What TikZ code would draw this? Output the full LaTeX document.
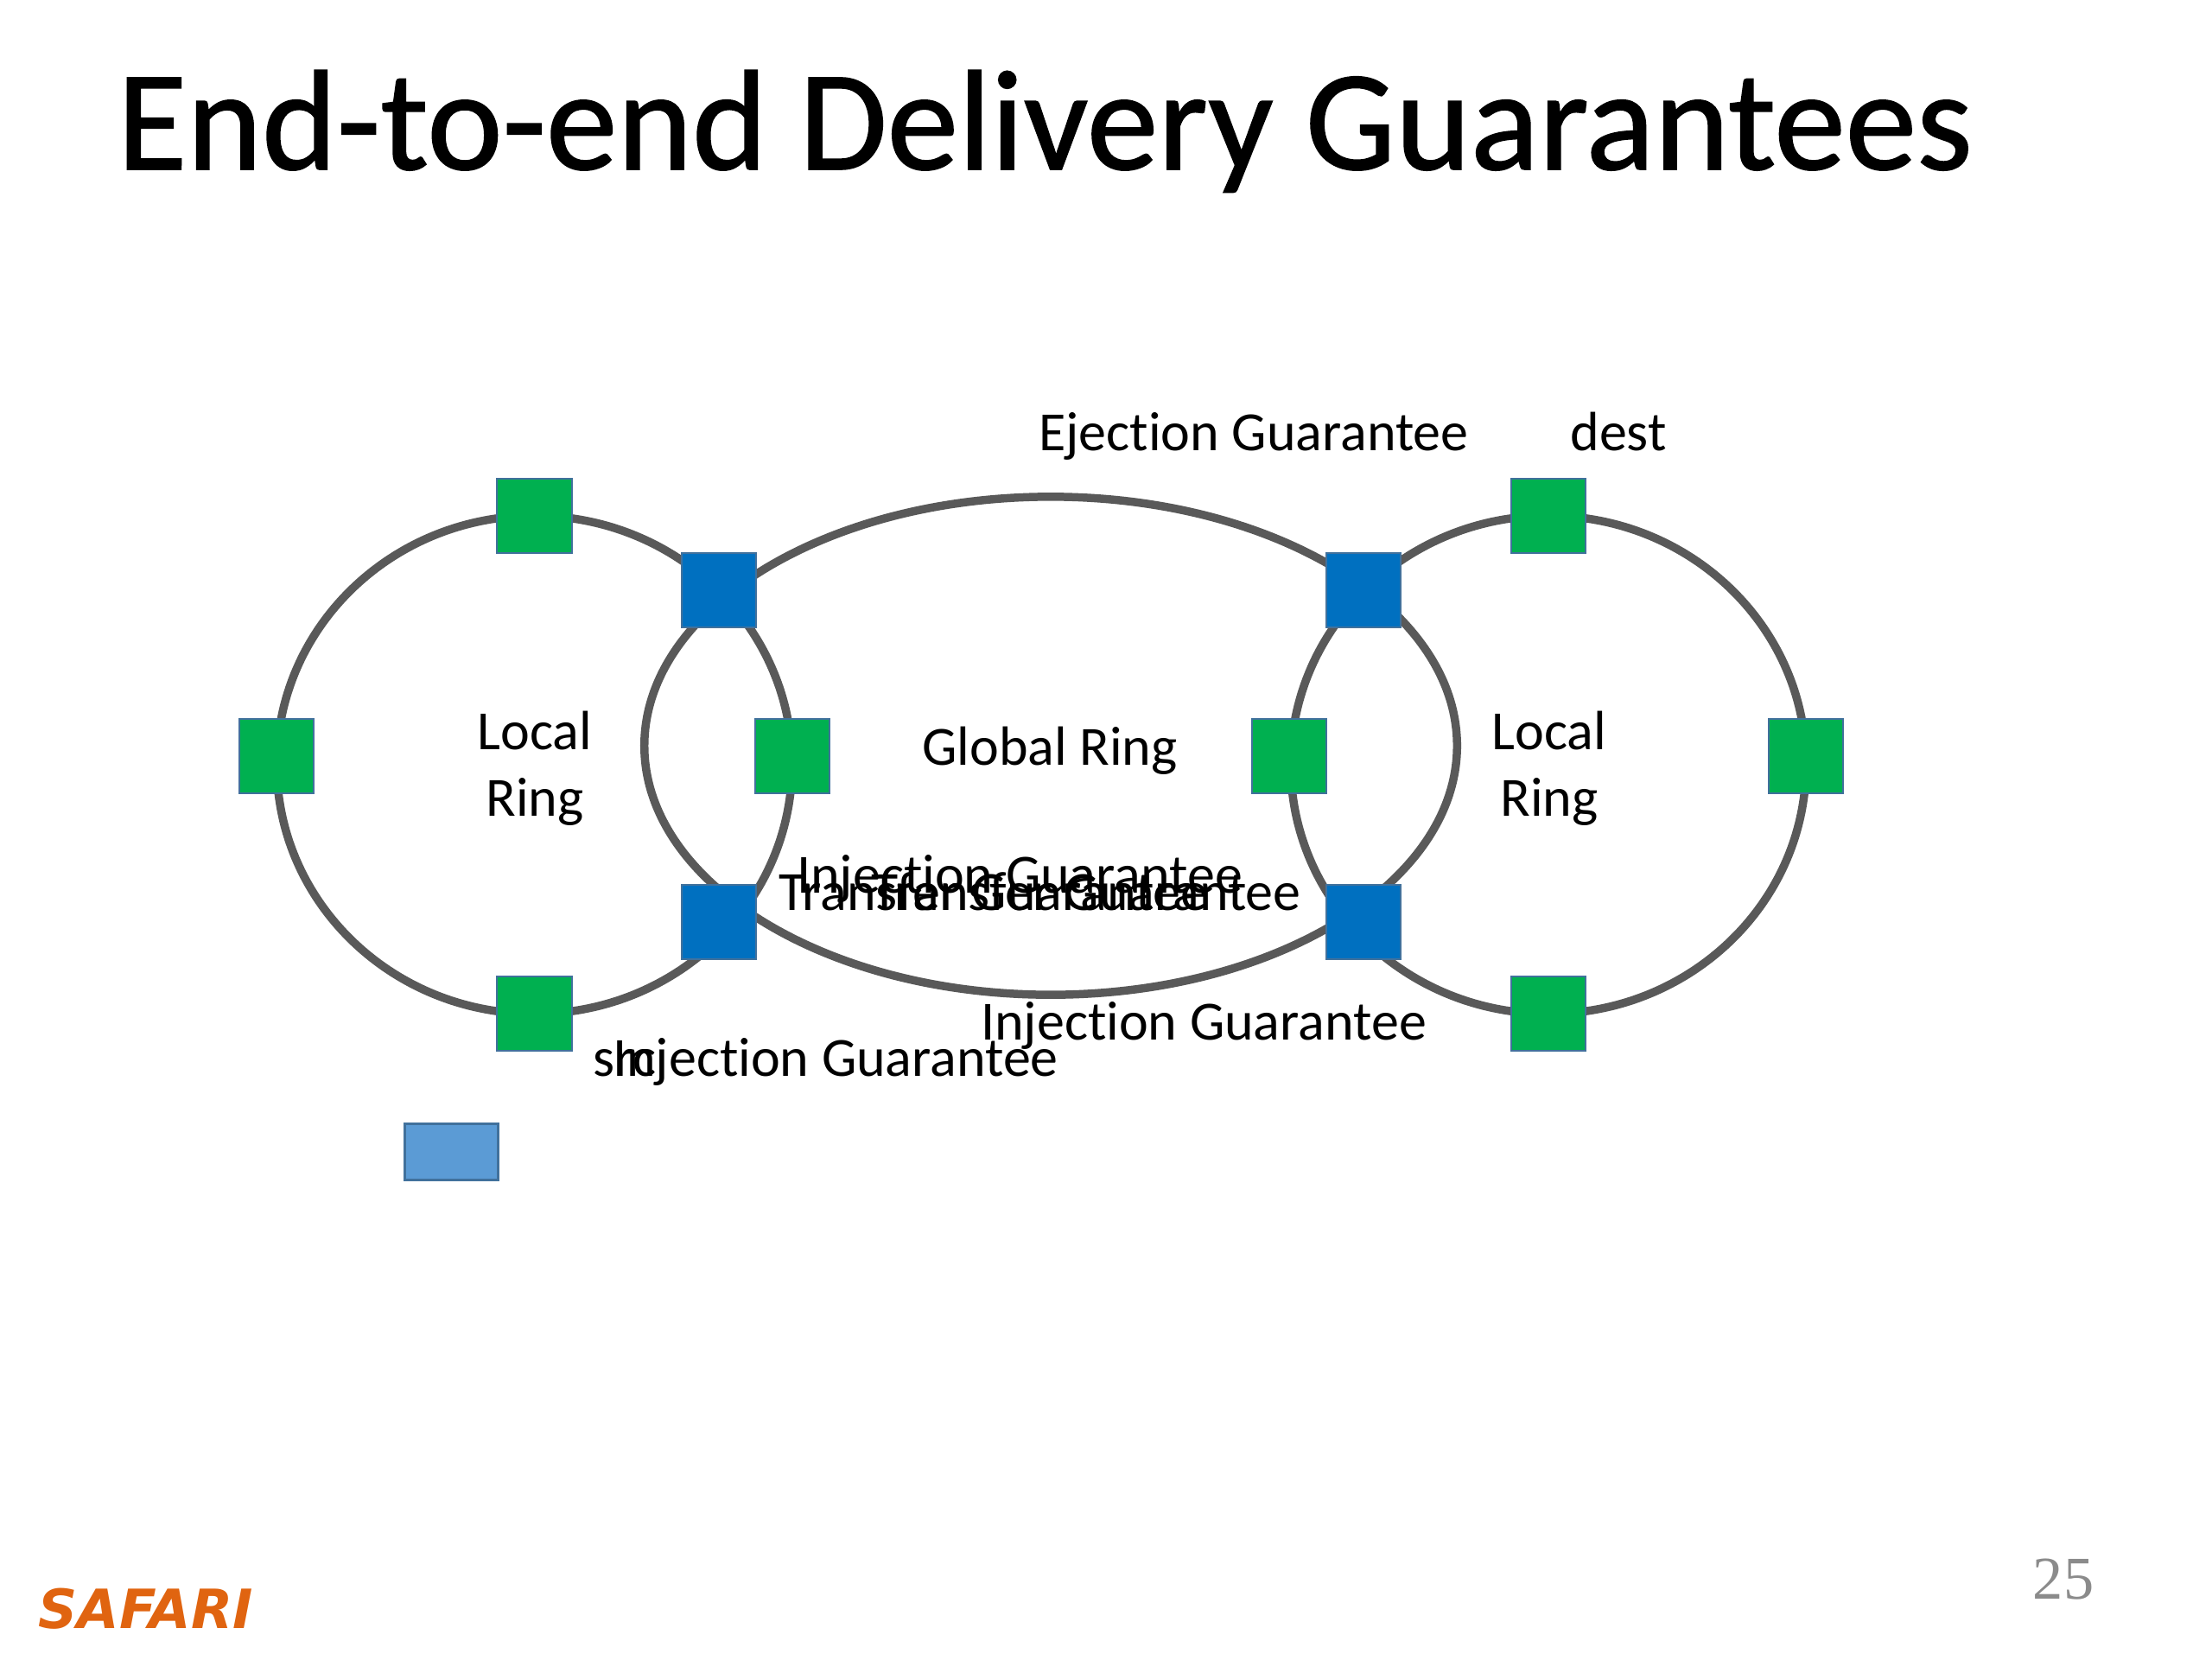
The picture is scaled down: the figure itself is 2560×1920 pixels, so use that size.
\documentclass[tikz,border=0pt]{standalone}
\usepackage{fontspec}
\setmainfont[Ligatures=NoCommon]{Carlito}
\newfontfamily\titlefont[FakeBold=1]{Carlito}
\newfontfamily\safarifont{DejaVu Sans}
\newfontfamily\numfont{Liberation Serif}
\usetikzlibrary{shapes.geometric}
\definecolor{ringgray}{HTML}{595959}
\definecolor{nodegreen}{HTML}{00B050}
\definecolor{nodeblue}{HTML}{0070C0}
\definecolor{legendblue}{HTML}{5B9BD5}
\definecolor{edgeblue}{HTML}{41719C}
\definecolor{safari}{HTML}{E06410}
\definecolor{numgray}{HTML}{8B8B8B}
\tikzset{
  ring/.style={draw=ringgray,line width=2.7pt,ellipse,inner sep=0pt},
  greenbox/.style={draw=edgeblue,line width=0.5pt,fill=nodegreen,minimum size=24.6pt,inner sep=0pt},
  bluebox/.style={draw=edgeblue,line width=0.5pt,fill=nodeblue,minimum size=24.6pt,inner sep=0pt},
  legendbox/.style={draw=edgeblue,line width=1pt,fill=legendblue,minimum width=30.6pt,minimum height=18.4pt,inner sep=0pt},
  lbl/.style={anchor=base,inner sep=0pt,font=\fontsize{18.2}{20}\selectfont,text=black},
}
\begin{document}
\begin{tikzpicture}[x=0.01cm,y=-0.01cm]
\useasboundingbox (0,0) rectangle (2560,1920);
\node[anchor=base west,inner sep=0pt,font=\titlefont\fontsize{47}{50}\selectfont] (title) at (135,196) {End-to-end Delivery Guarantees};
\node[ring,minimum width=5.96cm,minimum height=5.76cm] (ringL) at (618.5,885) {};
\node[ring,minimum width=9.40cm,minimum height=5.76cm] (ringG) at (1216,863) {};
\node[ring,minimum width=5.96cm,minimum height=5.76cm] (ringR) at (1792,885) {};
\node[greenbox] (g1) at (618.5,597) {};
\node[greenbox] (g2) at (618.5,1173) {};
\node[greenbox] (g3) at (320,875) {};
\node[greenbox] (g4) at (917,875) {};
\node[greenbox] (g5) at (1792,597) {};
\node[greenbox] (g6) at (1792,1173) {};
\node[greenbox] (g7) at (1492,875) {};
\node[greenbox] (g8) at (2090,875) {};
\node[bluebox] (b1) at (832,683) {};
\node[bluebox] (b2) at (832,1067) {};
\node[bluebox] (b3) at (1578,683) {};
\node[bluebox] (b4) at (1578,1067) {};
\node[legendbox] (legend) at (522.5,1333) {};
\node[lbl] (ej) at (1451,521) {Ejection Guarantee};
\node[lbl] (dest) at (1873,521) {dest};
\node[lbl] (ll1) at (619,867) {Local};
\node[lbl] (ll2) at (619,944) {Ring};
\node[lbl] (lr1) at (1793,867) {Local};
\node[lbl] (lr2) at (1793,944) {Ring};
\node[lbl] (glob) at (1215,885) {Global Ring};
\node[lbl] (inj1) at (1180,1033) {Injection Guarantee};
\node[lbl] (tr1) at (1150,1053) {Transfer Guarantee};
\node[lbl] (tr2) at (1257,1053) {Transfer Guarantee};
\node[lbl] (inj2) at (1393,1203) {Injection Guarantee};
\node[lbl] (inj3) at (967,1245) {Injection Guarantee};
\node[lbl] (src) at (723,1245) {src};
\node[anchor=base west,inner sep=0pt,text=safari,font=\safarifont\bfseries\itshape\fontsize{17.8}{19}\selectfont] (saf) at (44,1884) {SAFARI};
\node[anchor=base,inner sep=0pt,text=numgray,font=\numfont\fontsize{20}{21}\selectfont] (num) at (2388,1850) {25};
\end{tikzpicture}
\end{document}
